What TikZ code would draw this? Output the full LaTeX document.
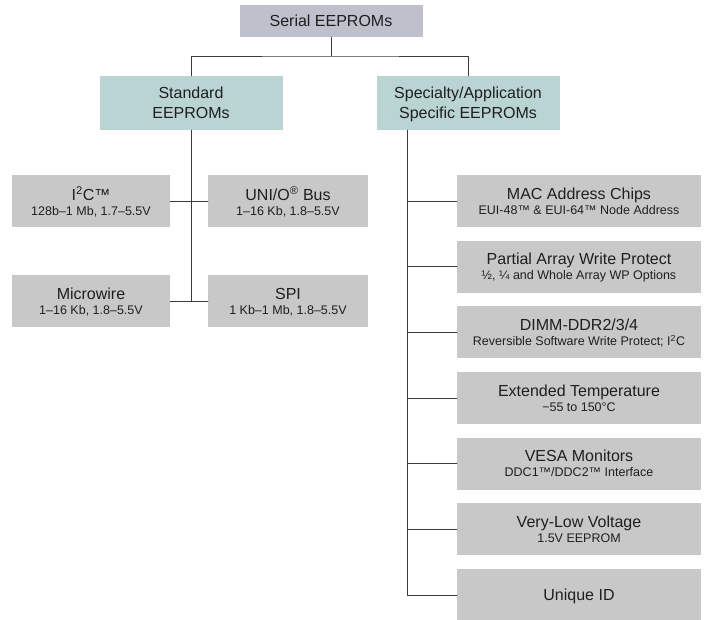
\documentclass[tikz,border=0pt]{standalone}
\usepackage{fontspec}
\setmainfont{Liberation Sans}
\definecolor{topfill}{HTML}{BEC0CC}
\definecolor{tealfill}{HTML}{B9D4D3}
\definecolor{boxfill}{HTML}{C8C8C8}
\definecolor{linegray}{HTML}{3A3A3A}
\newcommand{\mainsz}{\fontsize{16}{19}\selectfont}
\newcommand{\subsz}{\fontsize{12.5}{14}\selectfont}
\tikzset{
  basebox/.style={inner sep=0pt, align=center, text=black!88, font=\mainsz, text depth=-3pt},
  topbox/.style={basebox, fill=topfill, minimum width=183, minimum height=32},
  catbox/.style={basebox, fill=tealfill, minimum width=183, minimum height=54},
  stdbox/.style={basebox, fill=boxfill, minimum width=158, minimum height=52},
  appbox/.style={basebox, fill=boxfill, minimum width=244, minimum height=52},
  wire/.style={draw=linegray, line width=0.9pt}
}
\begin{document}
\begin{tikzpicture}[x=1pt, y=-1pt, line join=round, line cap=round]
  \useasboundingbox (0,0) rectangle (709,619);
  % top and the two families
  \node[topbox] (serial) at (331,21) {Serial EEPROMs};
  \node[catbox] (std) at (191,103) {Standard\\[1pt]EEPROMs};
  \node[catbox] (spec) at (468,103) {Specialty/Application\\[1pt]Specific EEPROMs};
  \coordinate (split) at (331,56);
  \draw[wire] (serial.south) -- (split);
  \draw[wire] (std.north) |- (split) -| (spec.north);
  % standard buses
  \node[stdbox] (i2c) at (91,201) {I\textsuperscript{2}C™\\[-4pt]{\subsz 128b–1 Mb, 1.7–5.5V}};
  \node[stdbox, minimum width=160] (unio) at (288,201) {UNI/O\textsuperscript{®} Bus\\[-4pt]{\subsz 1–16 Kb, 1.8–5.5V}};
  \node[stdbox] (mw) at (91,301) {Microwire\\[-4pt]{\subsz 1–16 Kb, 1.8–5.5V}};
  \node[stdbox, minimum width=160] (spi) at (288,301) {SPI\\[-4pt]{\subsz 1 Kb–1 Mb, 1.8–5.5V}};
  \coordinate (lt) at (std.south |- mw.east);
  \draw[wire] (std.south) -- (lt);
  \draw[wire] (i2c.east) -- (unio.west);
  \draw[wire] (mw.east) -- (spi.west);
  % specialty column
  \foreach \i/\nm/\ttl/\sub in {
      0/mac/MAC Address Chips/EUI-48™ \& EUI-64™ Node Address,
      1/pawp/Partial Array Write Protect/{½, ¼ and Whole Array WP Options},
      2/dimm/{DIMM-DDR2/3/4}/{Reversible Software Write Protect; I\textsuperscript{2}C},
      3/ext/Extended Temperature/−55 to 150°C,
      4/vesa/VESA Monitors/{DDC1™/DDC2™ Interface},
      5/vlv/Very-Low Voltage/1.5V EEPROM}
    \node[appbox] (\nm) at (579,201+65.67*\i) {\ttl\\[-4pt]{\subsz\sub}};
  \node[appbox] (uid) at (579,595) {Unique ID};
  \path (spec.south west) ++(31,0) coordinate (rt);
  \draw[wire] (rt) |- (uid.west);
  \foreach \nm in {mac,pawp,dimm,ext,vesa,vlv}
    \draw[wire] (\nm.west) -- (\nm.west -| rt);
\end{tikzpicture}
\end{document}
